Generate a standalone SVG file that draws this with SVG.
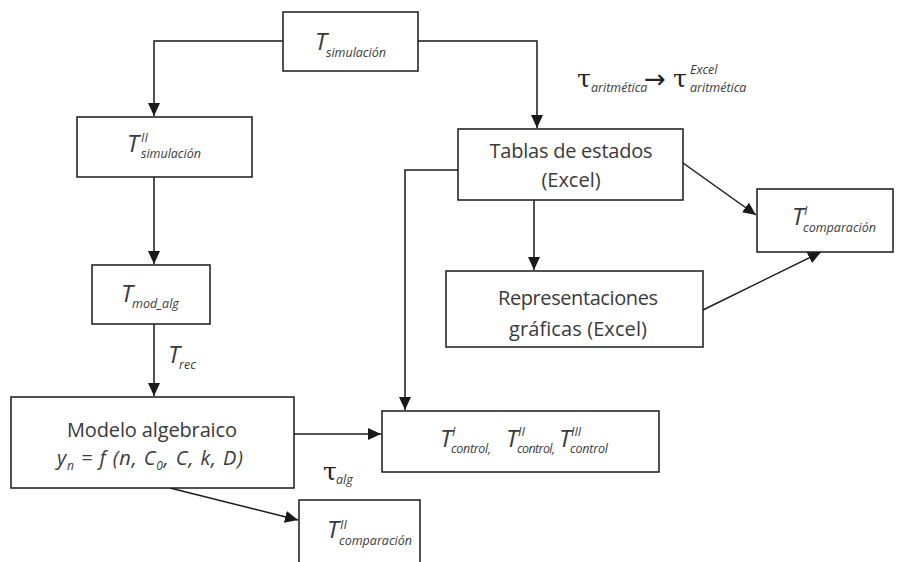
<svg xmlns="http://www.w3.org/2000/svg" width="901" height="562" viewBox="0 0 901 562">
<style>
.box{fill:#fff;stroke:#1a1a1a;stroke-width:1.5}
.ln{fill:none;stroke:#1a1a1a;stroke-width:1.5}
.t{font-family:"Open Sans","Liberation Sans",sans-serif;fill:#3a3a3a}
.m{font-size:20px;text-anchor:middle}
.T{font-size:24px;font-style:italic}
.s{font-size:12.5px;font-style:italic}
.g{font-family:"DejaVu Serif","Liberation Serif",serif;font-size:25px;fill:#222}
</style>
<defs>
<marker id="ah" markerUnits="userSpaceOnUse" markerWidth="14" markerHeight="12" refX="13" refY="6" orient="auto">
<path d="M0,0 L13,6 L0,12 Z" fill="#1a1a1a"/>
</marker>
</defs>
<rect width="901" height="562" fill="#fff"/>
<g id="connectors">
<path class="ln" d="M283,41 H154 V116" marker-end="url(#ah)"/>
<path class="ln" d="M418,41 H537 V128" marker-end="url(#ah)"/>
<path class="ln" d="M154,177 V264" marker-end="url(#ah)"/>
<path class="ln" d="M154,324 V396" marker-end="url(#ah)"/>
<path class="ln" d="M294,434 H381" marker-end="url(#ah)"/>
<path class="ln" d="M458,170 H405 V410" marker-end="url(#ah)"/>
<path class="ln" d="M534,200 V270" marker-end="url(#ah)"/>
<path class="ln" d="M683,163 L756,215" marker-end="url(#ah)"/>
<path class="ln" d="M703,310 L821,252" marker-end="url(#ah)"/>
<path class="ln" d="M170,488 L298,520" marker-end="url(#ah)"/>
</g>
<g id="tsim">
<rect class="box" x="283" y="12" width="135" height="59"/>
<text class="t T" x="315" y="50">T</text>
<text class="t s" x="326" y="57">simulación</text>
</g>
<g id="tsim2">
<rect class="box" x="77" y="117" width="175" height="60"/>
<text class="t T" x="127" y="152">T</text>
<text class="t s" x="141" y="142">II</text>
<text class="t s" x="141" y="158">simulación</text>
</g>
<g id="tmodalg">
<rect class="box" x="92" y="265" width="118" height="59"/>
<text class="t T" x="121" y="302">T</text>
<text class="t s" x="132" y="308">mod_alg</text>
</g>
<g id="trec">
<text class="t T" x="168" y="363">T</text>
<text class="t s" x="179" y="369">rec</text>
</g>
<g id="modelo">
<rect class="box" x="11" y="397" width="283" height="91"/>
<text class="t m" x="152" y="437" textLength="170">Modelo algebraico</text>
<text class="t" style="font-size:20px;font-style:italic" x="57" y="465" textLength="186">y<tspan style="font-size:12px" dy="5">n</tspan><tspan dy="-5"> = f (n, C</tspan><tspan style="font-size:12px" dy="5">0</tspan><tspan dy="-5">, C, k, D)</tspan></text>
</g>
<g id="talg">
<text class="g" x="323" y="480">τ</text>
<text class="t s" x="336" y="484">alg</text>
</g>
<g id="tcontrol">
<rect class="box" x="382" y="411" width="277" height="61"/>
<text class="t T" x="440" y="447">T</text>
<text class="t s" x="452" y="436">I</text>
<text class="t s" x="451" y="453" textLength="40">control,</text>
<text class="t T" x="506" y="447">T</text>
<text class="t s" x="518" y="436">II</text>
<text class="t s" x="517" y="453" textLength="38">control,</text>
<text class="t T" x="559" y="447">T</text>
<text class="t s" x="571" y="436">III</text>
<text class="t s" x="570" y="453" textLength="38">control</text>
</g>
<g id="tcomp2">
<path class="box" d="M299,563 V500 H420 V563"/>
<text class="t T" x="327" y="538">T</text>
<text class="t s" x="340" y="529">II</text>
<text class="t s" x="339" y="545">comparación</text>
</g>
<g id="tablas">
<rect class="box" x="458" y="129" width="225" height="71"/>
<text class="t m" x="571" y="158" textLength="163">Tablas de estados</text>
<text class="t m" x="571" y="187">(Excel)</text>
</g>
<g id="rep">
<rect class="box" x="446" y="271" width="257" height="76"/>
<text class="t m" x="578" y="305" textLength="160">Representaciones</text>
<text class="t m" x="578" y="336" textLength="138">gráficas (Excel)</text>
</g>
<g id="tcomp1">
<rect class="box" x="757" y="189" width="136" height="63"/>
<text class="t T" x="792" y="225">T</text>
<text class="t s" x="804" y="215">I</text>
<text class="t s" x="803" y="232">comparación</text>
</g>
<g id="tarit">
<text class="g" x="577" y="87">τ</text>
<text class="t s" x="591" y="92">aritmética</text>
<text style="font-family:'DejaVu Sans',sans-serif;font-size:26px;fill:#222" x="644" y="88" textLength="27">→</text>
<text class="g" x="673" y="87">τ</text>
<text class="t s" x="690" y="74">Excel</text>
<text class="t s" x="690" y="92">aritmética</text>
</g>
</svg>
